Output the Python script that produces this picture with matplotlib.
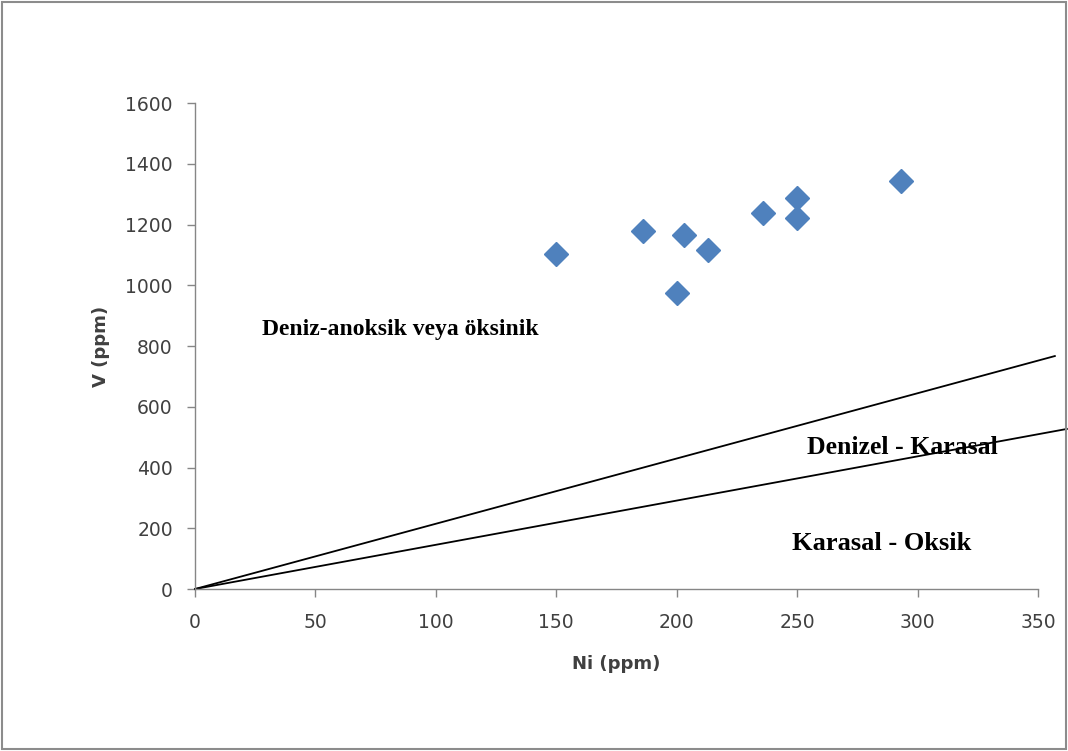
import matplotlib
matplotlib.use("Agg")
import matplotlib.pyplot as plt
from matplotlib.patches import Rectangle

# Data
ni_ppm = [150, 186, 203, 213, 200, 236, 250, 250, 293]
v_ppm = [1102, 1180, 1166, 1115, 975, 1237, 1288, 1220, 1344]

# Boundary lines (start/end points in data units)
line1_x = [0, 357]
line1_y = [0, 767]
line2_x = [0, 362]
line2_y = [0, 527]

x_ticks = [0, 50, 100, 150, 200, 250, 300, 350]
y_ticks = [0, 200, 400, 600, 800, 1000, 1200, 1400, 1600]

fig = plt.figure(figsize=(10.68, 7.51), dpi=100)
fig.patches.append(Rectangle((0.002, 0.002), 0.996, 0.996, transform=fig.transFigure,
                             fill=False, edgecolor="#8c8c8c", linewidth=1.5))
ax = fig.add_axes([0.1826, 0.2157, 0.9719 - 0.1826, 0.8628 - 0.2157])

ax.plot(line1_x, line1_y, color="black", linewidth=1.3, clip_on=False, zorder=2)
ax.plot(line2_x, line2_y, color="black", linewidth=1.3, clip_on=False, zorder=2)
ax.plot(ni_ppm, v_ppm, linestyle="none", marker="D", markersize=12,
        color="#4F81BD", markeredgecolor="#4F81BD", zorder=3)

ax.set_xlim(0, 350)
ax.set_ylim(0, 1600)
ax.set_xticks(x_ticks)
ax.set_yticks(y_ticks)
ax.tick_params(axis="both", labelsize=13.5, color="#868686", length=6, width=1,
               labelcolor="#404040", direction="out")
ax.tick_params(axis="y", pad=10)
ax.tick_params(axis="x", pad=11)
for s in ["top", "right"]:
    ax.spines[s].set_visible(False)
for s in ["left", "bottom"]:
    ax.spines[s].set_color("#868686")
    ax.spines[s].set_linewidth(1)

ax.set_xlabel("Ni (ppm)", fontsize=13, fontweight="bold", color="#404040", labelpad=17)
ax.set_ylabel("V (ppm)", fontsize=13, fontweight="bold", color="#404040", labelpad=11)

serif = "Liberation Serif"
ax.text(28, 855, "Deniz-anoksik veya öksinik", fontsize=17, fontweight="bold",
        family=serif, va="center", ha="left")
ax.text(254, 465, "Denizel - Karasal", fontsize=18.5, fontweight="bold",
        family=serif, va="center", ha="left")
ax.text(248, 150, "Karasal - Oksik", fontsize=19, fontweight="bold",
        family=serif, va="center", ha="left")

fig.savefig("out.png", dpi=100)
